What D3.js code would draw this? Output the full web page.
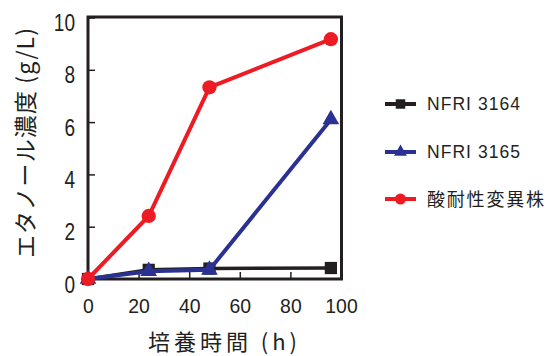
<!DOCTYPE html>
<html><head><meta charset="utf-8">
<script src="https://cdn.jsdelivr.net/npm/d3@7"></script>
<style>
body{margin:0;background:#fff;}
svg{display:block;}
.num{font-family:"Liberation Sans","Arial",sans-serif;}
.jp{font-family:"Noto Sans CJK JP",sans-serif;}
</style>
</head><body>
<svg id="c" width="553" height="356"></svg>
<script>
const hours = [0, 24, 48, 96];
const seriesNames = ["NFRI 3164", "NFRI 3165", "酸耐性変異株"];
const nfri3164 = [0, 0.35, 0.4, 0.42];
const nfri3165 = [0, 0.3, 0.35, 6.1];
const mutant = [0, 2.41, 7.33, 9.17];
const xTicks = [0, 20, 40, 60, 80, 100];
const yTicks = [0, 2, 4, 6, 8, 10];
const colors = ["#231f20", "#2b3192", "#ed1c24"];
const symbols = ["square", "triangle", "circle"];

const svg = d3.select("#c");
const x = d3.scaleLinear().domain([0, 100]).range([88, 341]);
const y = d3.scaleLinear().domain([0, 10]).range([279, 17.5]);

// frame
svg.append("rect").attr("x", 88).attr("y", 17).attr("width", 253.5).attr("height", 262)
  .attr("fill", "none").attr("stroke", "#231f20").attr("stroke-width", 3);

// axes with inward ticks
const xa = svg.append("g").attr("transform", "translate(0,279)")
  .call(d3.axisBottom(x).tickValues(xTicks).tickSize(-7).tickPadding(20).tickFormat(d3.format("d")));
const ya = svg.append("g").attr("transform", "translate(88,0)")
  .call(d3.axisLeft(y).tickValues(yTicks).tickSize(-7).tickPadding(13).tickFormat(d3.format("d")));
[xa, ya].forEach(a => {
  a.select(".domain").remove();
  a.selectAll("line").attr("stroke", "#231f20").attr("stroke-width", 1.5);
  a.selectAll("text").attr("class", "num").attr("fill", "#231f20")
    .attr("lengthAdjust", "spacingAndGlyphs");
});
xa.selectAll("text").attr("font-size", 20).attr("dy", "0.71em")
  .attr("textLength", d => String(d).length * 10.8);
ya.selectAll("text").attr("font-size", 24.5).attr("dy", "0.53em")
  .attr("textLength", d => String(d).length * 10.6);

const data = [nfri3164, nfri3165, mutant];
const line = d3.line().x((d, i) => x(hours[i])).y(d => y(d));
const symMap = {square: d3.symbolSquare, triangle: d3.symbolTriangle, circle: d3.symbolCircle};
const symSize = {square: 150, triangle: 120, circle: 160};
const widths = [3.5, 4, 4];

data.forEach((vals, k) => {
  svg.append("path").datum(vals).attr("d", line).attr("fill", "none")
    .attr("stroke", colors[k]).attr("stroke-width", widths[k]);
  svg.selectAll(null).data(vals).enter().append("path")
    .attr("d", d3.symbol().type(symMap[symbols[k]]).size(symSize[symbols[k]]))
    .attr("transform", (d, i) => `translate(${x(hours[i])},${y(d)})`)
    .attr("fill", colors[k]);
});

// legend
const ly = [104, 152, 199];
seriesNames.forEach((n, k) => {
  svg.append("line").attr("x1", 385).attr("x2", 416).attr("y1", ly[k]).attr("y2", ly[k])
    .attr("stroke", colors[k]).attr("stroke-width", 4);
  svg.append("path").attr("d", d3.symbol().type(symMap[symbols[k]]).size(symSize[symbols[k]] * 0.6))
    .attr("transform", `translate(400.5,${ly[k]})`).attr("fill", colors[k]);
  const t = svg.append("text").attr("x", 427).attr("y", ly[k])
    .attr("class", k < 2 ? "num" : "jp")
    .attr("fill", "#231f20").text(n);
  if (k < 2) {
    t.attr("font-size", 17.5).attr("dy", "0.36em").attr("textLength", 93).attr("lengthAdjust", "spacing");
  } else {
    t.attr("font-size", 18).attr("dy", "0.38em").attr("textLength", 117).attr("lengthAdjust", "spacing");
  }
});

// axis titles
svg.append("text").attr("class", "jp").attr("x", 222.5).attr("y", 342).attr("dy", "0.36em")
  .attr("text-anchor", "middle").attr("font-size", 22).attr("fill", "#231f20")
  .attr("textLength", 149).attr("lengthAdjust", "spacing").text("培養時間 (h)");
svg.append("text").attr("class", "jp").attr("transform", "translate(26,143) rotate(-90)")
  .attr("dy", "0.36em").attr("text-anchor", "middle").attr("font-size", 23).attr("fill", "#231f20")
  .attr("textLength", 230).attr("lengthAdjust", "spacing").text("エタノール濃度 (g/L)");
</script>
</body></html>
